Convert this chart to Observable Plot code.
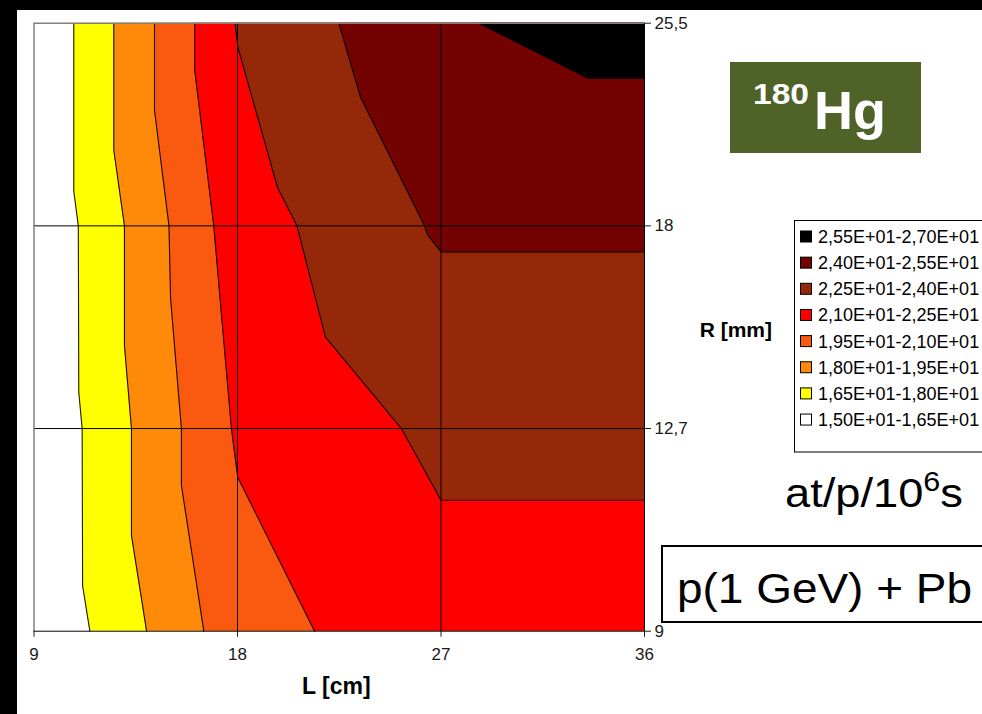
<!DOCTYPE html>
<html>
<head>
<meta charset="utf-8">
<script src="https://cdn.jsdelivr.net/npm/d3@7"></script>
<script src="https://cdn.jsdelivr.net/npm/@observablehq/plot@0.6"></script>
<style>
  html, body { margin: 0; padding: 0; background: #fff; }
  #wrap { position: relative; width: 982px; height: 714px; background: #000; overflow: hidden; }
  #plot { position: absolute; left: 17px; top: 10px; width: 965px; height: 704px; background: #fff; }
  #plot svg text { font-size: 17px; fill: #1a1a1a; }
  #overlay { position: absolute; left: 0; top: 0; pointer-events: none; }
</style>
</head>
<body>
<div id="wrap"><div id="plot"></div></div>
<script>
// ---- data ----
const L_ticks = [9, 18, 27, 36];                 // L [cm] categories
const R_ticks = [9, 12.7, 18, 25.5];             // R [mm] categories
const R_labels = ["9", "12,7", "18", "25,5"];
const thresholds = [15, 16.5, 18, 19.5, 21, 22.5, 24, 25.5, 27];
const legendLabels = [
  "1,50E+01-1,65E+01", "1,65E+01-1,80E+01", "1,80E+01-1,95E+01", "1,95E+01-2,10E+01",
  "2,10E+01-2,25E+01", "2,25E+01-2,40E+01", "2,40E+01-2,55E+01", "2,55E+01-2,70E+01"
];
const bandColors = ["#ffffff", "#ffff00", "#ff8a0a", "#fa5a10", "#ff0000", "#952808", "#750202", "#000000"];

// contour lines [L cm, R mm], read top to bottom
const edge165 = [[10.76, 25.5], [10.76, 19.28], [10.96, 18], [10.98, 13.65], [11.13, 12.7], [11.15, 9.83], [11.47, 9]];
const edge180 = [[12.53, 25.5], [12.53, 20.79], [13.0, 18], [13.0, 14.87], [13.31, 12.7], [13.31, 10.75], [13.98, 9]];
const edge195 = [[14.33, 25.5], [14.33, 22.27], [14.97, 18], [15.04, 16.1], [15.52, 12.7], [15.52, 11.66], [16.51, 9]];
const edge210 = [[16.11, 25.5], [16.11, 23.75], [16.95, 18], [17.73, 12.7], [18.01, 11.81], [21.41, 9]];
const edge225 = [[17.89, 25.5], [18.02, 24.6], [19.77, 19.42], [20.63, 18], [21.89, 15.09], [25.25, 12.7], [27.0, 11.39], [36, 11.39]];
const edge240 = [[22.48, 25.5], [23.44, 22.76], [26.27, 18], [26.4, 17.77], [27.0, 17.32], [36, 17.32]];
const edge255 = [[28.67, 25.5], [33.49, 23.46], [36, 23.46]];

// ---- build ----
const edges = [edge165, edge180, edge195, edge210, edge225, edge240, edge255];
const rIndex = d3.scaleLinear().domain(R_ticks).range(R_ticks.map((_, i) => i));
const Lmax = d3.max(L_ticks);
const rows = edges.map((e, k) => e.map(([L, R]) => ({k, level: thresholds[k + 1], L, R, y: rIndex(R)})));
const allRows = rows.flat();
const idx = R_ticks.map((_, i) => i);

const fills = rows.map((r, k) => Plot.areaX(r, {
  y: "y", x1: "L", x2: () => Lmax, fill: bandColors[k + 1], curve: "linear"
}));

const chart = Plot.plot({
  width: 965,
  height: 704,
  marginLeft: 16.5,
  marginRight: 338,
  marginTop: 12.7,
  marginBottom: 83.3,
  style: {fontFamily: "'Liberation Sans', Arial, sans-serif", fontSize: "17px", color: "#1a1a1a", background: "#fff", overflow: "visible"},
  x: {domain: [L_ticks[0], Lmax], ticks: L_ticks, tickSize: 6, tickPadding: 11, label: null},
  y: {domain: [0, idx.length - 1], ticks: idx, tickFormat: i => R_labels[i], axis: "right", tickSize: 6, tickPadding: 4, label: null},
  marks: [
    ...fills,
    Plot.line(allRows, {x: "L", y: "y", z: "k", stroke: "#000", strokeWidth: 1.1, strokeOpacity: 0.9, curve: "linear"}),
    Plot.ruleX(L_ticks.slice(1, -1), {stroke: "#000", strokeWidth: 1}),
    Plot.ruleY(idx.slice(1, -1), {stroke: "#000", strokeWidth: 1}),
    Plot.ruleX([L_ticks[0]], {stroke: "#808080", strokeWidth: 1.5}),
    Plot.ruleY([idx[idx.length - 1]], {stroke: "#808080", strokeWidth: 1.5}),
    Plot.ruleX([Lmax], {stroke: "#000", strokeWidth: 1}),
    Plot.ruleY([0], {stroke: "#000", strokeWidth: 1})
  ]
});
document.getElementById("plot").appendChild(chart);

// ---- annotations & legend ----
const rowY0 = 236.5, rowStep = 26.15;
let legendRows = "";
for (let i = 0; i < legendLabels.length; i++) {
  const j = legendLabels.length - 1 - i;
  const cy = rowY0 + i * rowStep;
  legendRows += `<rect x="800.5" y="${cy - 5.5}" width="11" height="11" fill="${bandColors[j]}" stroke="#000" stroke-width="1"/>` +
    `<text x="818" y="${cy + 6.5}" font-size="18" fill="#000">${legendLabels[j]}</text>`;
}
const ov = `
<svg id="overlay" width="982" height="714" font-family="'Liberation Sans', Arial, sans-serif">
  <text x="772" y="337" text-anchor="end" font-weight="bold" font-size="21" fill="#000">R [mm]</text>
  <text x="302" y="694" font-weight="bold" font-size="23" fill="#000">L [cm]</text>
  <rect x="730" y="62" width="191" height="91" fill="#4f6228"/>
  <text x="753" y="104" font-weight="bold" font-size="29" fill="#fff" textLength="56" lengthAdjust="spacingAndGlyphs">180</text>
  <text x="814" y="129" font-weight="bold" font-size="54" fill="#fff">Hg</text>
  <rect x="794.5" y="220.5" width="220" height="231.5" fill="#fff" stroke="#000" stroke-width="1"/>
  ${legendRows}
  <text x="785" y="507" font-size="40" fill="#000" textLength="178" lengthAdjust="spacingAndGlyphs">at/p/10<tspan font-size="27" dy="-16">6</tspan><tspan font-size="40" dy="16">s</tspan></text>
  <rect x="662" y="546" width="340" height="76" fill="#fff" stroke="#000" stroke-width="2"/>
  <text x="677" y="603" font-size="42" fill="#000" textLength="295" lengthAdjust="spacingAndGlyphs">p(1 GeV) + Pb</text>
</svg>`;
document.getElementById("wrap").insertAdjacentHTML("beforeend", ov);
</script>
</body>
</html>
